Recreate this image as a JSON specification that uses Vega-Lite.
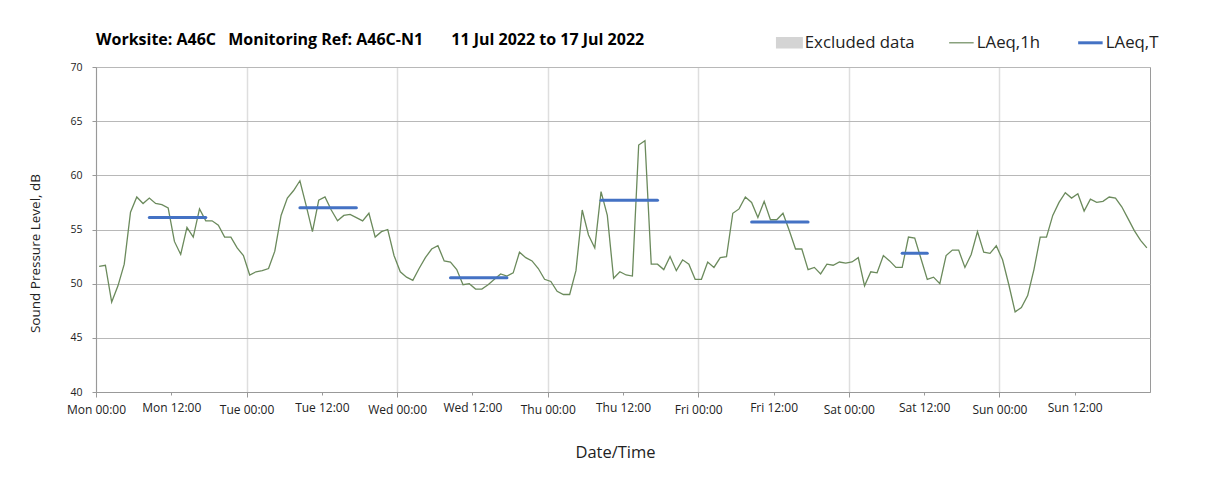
{
  "$schema": "https://vega.github.io/schema/vega-lite/v6.json",
  "width": 1054,
  "height": 325,
  "autosize": "none",
  "padding": {"left": 96, "top": 67, "right": 58, "bottom": 93},
  "background": "white",
  "title": {
    "text": "Worksite: A46C\u2002 Monitoring Ref: A46C-N1\u2003\u2002 11 Jul 2022 to 17 Jul 2022",
    "anchor": "start",
    "frame": "group",
    "font": "Open Sans",
    "fontSize": 16,
    "fontWeight": "bold",
    "color": "#000000",
    "baseline": "alphabetic",
    "offset": -27
  },
  "config": {
    "view": {"stroke": "#9a9a9a", "strokeWidth": 1},
    "font": "Open Sans"
  },
  "datasets": {
    "hourly": [
      {"t": "2022-07-11T00:30", "v": 51.6}, {"t": "2022-07-11T01:30", "v": 51.7}, {"t": "2022-07-11T02:30", "v": 48.3}, {"t": "2022-07-11T03:30", "v": 49.8},
      {"t": "2022-07-11T04:30", "v": 51.8}, {"t": "2022-07-11T05:30", "v": 56.6}, {"t": "2022-07-11T06:30", "v": 58.0}, {"t": "2022-07-11T07:30", "v": 57.4},
      {"t": "2022-07-11T08:30", "v": 57.9}, {"t": "2022-07-11T09:30", "v": 57.4}, {"t": "2022-07-11T10:30", "v": 57.3}, {"t": "2022-07-11T11:30", "v": 57.0},
      {"t": "2022-07-11T12:30", "v": 53.9}, {"t": "2022-07-11T13:30", "v": 52.7}, {"t": "2022-07-11T14:30", "v": 55.2}, {"t": "2022-07-11T15:30", "v": 54.3},
      {"t": "2022-07-11T16:30", "v": 56.9}, {"t": "2022-07-11T17:30", "v": 55.8}, {"t": "2022-07-11T18:30", "v": 55.8}, {"t": "2022-07-11T19:30", "v": 55.4},
      {"t": "2022-07-11T20:30", "v": 54.3}, {"t": "2022-07-11T21:30", "v": 54.3}, {"t": "2022-07-11T22:30", "v": 53.3}, {"t": "2022-07-11T23:30", "v": 52.6},
      {"t": "2022-07-12T00:30", "v": 50.8}, {"t": "2022-07-12T01:30", "v": 51.1}, {"t": "2022-07-12T02:30", "v": 51.2}, {"t": "2022-07-12T03:30", "v": 51.4},
      {"t": "2022-07-12T04:30", "v": 53.0}, {"t": "2022-07-12T05:30", "v": 56.3}, {"t": "2022-07-12T06:30", "v": 57.9}, {"t": "2022-07-12T07:30", "v": 58.6},
      {"t": "2022-07-12T08:30", "v": 59.5}, {"t": "2022-07-12T09:30", "v": 57.2}, {"t": "2022-07-12T10:30", "v": 54.8}, {"t": "2022-07-12T11:30", "v": 57.7},
      {"t": "2022-07-12T12:30", "v": 58.0}, {"t": "2022-07-12T13:30", "v": 56.8}, {"t": "2022-07-12T14:30", "v": 55.8}, {"t": "2022-07-12T15:30", "v": 56.3},
      {"t": "2022-07-12T16:30", "v": 56.4}, {"t": "2022-07-12T17:30", "v": 56.1}, {"t": "2022-07-12T18:30", "v": 55.8}, {"t": "2022-07-12T19:30", "v": 56.5},
      {"t": "2022-07-12T20:30", "v": 54.3}, {"t": "2022-07-12T21:30", "v": 54.8}, {"t": "2022-07-12T22:30", "v": 55.0}, {"t": "2022-07-12T23:30", "v": 52.6},
      {"t": "2022-07-13T00:30", "v": 51.1}, {"t": "2022-07-13T01:30", "v": 50.6}, {"t": "2022-07-13T02:30", "v": 50.3}, {"t": "2022-07-13T03:30", "v": 51.4},
      {"t": "2022-07-13T04:30", "v": 52.4}, {"t": "2022-07-13T05:30", "v": 53.2}, {"t": "2022-07-13T06:30", "v": 53.5}, {"t": "2022-07-13T07:30", "v": 52.1},
      {"t": "2022-07-13T08:30", "v": 52.0}, {"t": "2022-07-13T09:30", "v": 51.3}, {"t": "2022-07-13T10:30", "v": 49.9}, {"t": "2022-07-13T11:30", "v": 50.0},
      {"t": "2022-07-13T12:30", "v": 49.5}, {"t": "2022-07-13T13:30", "v": 49.5}, {"t": "2022-07-13T14:30", "v": 49.9}, {"t": "2022-07-13T15:30", "v": 50.4},
      {"t": "2022-07-13T16:30", "v": 50.9}, {"t": "2022-07-13T17:30", "v": 50.7}, {"t": "2022-07-13T18:30", "v": 51.0}, {"t": "2022-07-13T19:30", "v": 52.9},
      {"t": "2022-07-13T20:30", "v": 52.4}, {"t": "2022-07-13T21:30", "v": 52.1}, {"t": "2022-07-13T22:30", "v": 51.4}, {"t": "2022-07-13T23:30", "v": 50.4},
      {"t": "2022-07-14T00:30", "v": 50.2}, {"t": "2022-07-14T01:30", "v": 49.3}, {"t": "2022-07-14T02:30", "v": 49.0}, {"t": "2022-07-14T03:30", "v": 49.0},
      {"t": "2022-07-14T04:30", "v": 51.2}, {"t": "2022-07-14T05:30", "v": 56.8}, {"t": "2022-07-14T06:30", "v": 54.5}, {"t": "2022-07-14T07:30", "v": 53.3},
      {"t": "2022-07-14T08:30", "v": 58.5}, {"t": "2022-07-14T09:30", "v": 56.3}, {"t": "2022-07-14T10:30", "v": 50.5}, {"t": "2022-07-14T11:30", "v": 51.1},
      {"t": "2022-07-14T12:30", "v": 50.8}, {"t": "2022-07-14T13:30", "v": 50.7}, {"t": "2022-07-14T14:30", "v": 62.8}, {"t": "2022-07-14T15:30", "v": 63.2},
      {"t": "2022-07-14T16:30", "v": 51.8}, {"t": "2022-07-14T17:30", "v": 51.8}, {"t": "2022-07-14T18:30", "v": 51.3}, {"t": "2022-07-14T19:30", "v": 52.5},
      {"t": "2022-07-14T20:30", "v": 51.2}, {"t": "2022-07-14T21:30", "v": 52.2}, {"t": "2022-07-14T22:30", "v": 51.8}, {"t": "2022-07-14T23:30", "v": 50.4},
      {"t": "2022-07-15T00:30", "v": 50.4}, {"t": "2022-07-15T01:30", "v": 52.0}, {"t": "2022-07-15T02:30", "v": 51.5}, {"t": "2022-07-15T03:30", "v": 52.4},
      {"t": "2022-07-15T04:30", "v": 52.5}, {"t": "2022-07-15T05:30", "v": 56.5}, {"t": "2022-07-15T06:30", "v": 56.9}, {"t": "2022-07-15T07:30", "v": 58.0},
      {"t": "2022-07-15T08:30", "v": 57.5}, {"t": "2022-07-15T09:30", "v": 56.1}, {"t": "2022-07-15T10:30", "v": 57.6}, {"t": "2022-07-15T11:30", "v": 55.9},
      {"t": "2022-07-15T12:30", "v": 55.9}, {"t": "2022-07-15T13:30", "v": 56.5}, {"t": "2022-07-15T14:30", "v": 54.9}, {"t": "2022-07-15T15:30", "v": 53.2},
      {"t": "2022-07-15T16:30", "v": 53.2}, {"t": "2022-07-15T17:30", "v": 51.3}, {"t": "2022-07-15T18:30", "v": 51.5}, {"t": "2022-07-15T19:30", "v": 50.9},
      {"t": "2022-07-15T20:30", "v": 51.8}, {"t": "2022-07-15T21:30", "v": 51.7}, {"t": "2022-07-15T22:30", "v": 52.0}, {"t": "2022-07-15T23:30", "v": 51.9},
      {"t": "2022-07-16T00:30", "v": 52.0}, {"t": "2022-07-16T01:30", "v": 52.4}, {"t": "2022-07-16T02:30", "v": 49.8}, {"t": "2022-07-16T03:30", "v": 51.1},
      {"t": "2022-07-16T04:30", "v": 51.0}, {"t": "2022-07-16T05:30", "v": 52.6}, {"t": "2022-07-16T06:30", "v": 52.1}, {"t": "2022-07-16T07:30", "v": 51.5},
      {"t": "2022-07-16T08:30", "v": 51.5}, {"t": "2022-07-16T09:30", "v": 54.3}, {"t": "2022-07-16T10:30", "v": 54.2}, {"t": "2022-07-16T11:30", "v": 52.3},
      {"t": "2022-07-16T12:30", "v": 50.4}, {"t": "2022-07-16T13:30", "v": 50.6}, {"t": "2022-07-16T14:30", "v": 50.0}, {"t": "2022-07-16T15:30", "v": 52.6},
      {"t": "2022-07-16T16:30", "v": 53.1}, {"t": "2022-07-16T17:30", "v": 53.1}, {"t": "2022-07-16T18:30", "v": 51.5}, {"t": "2022-07-16T19:30", "v": 52.7},
      {"t": "2022-07-16T20:30", "v": 54.8}, {"t": "2022-07-16T21:30", "v": 52.9}, {"t": "2022-07-16T22:30", "v": 52.8}, {"t": "2022-07-16T23:30", "v": 53.5},
      {"t": "2022-07-17T00:30", "v": 52.2}, {"t": "2022-07-17T01:30", "v": 49.9}, {"t": "2022-07-17T02:30", "v": 47.4}, {"t": "2022-07-17T03:30", "v": 47.8},
      {"t": "2022-07-17T04:30", "v": 48.9}, {"t": "2022-07-17T05:30", "v": 51.3}, {"t": "2022-07-17T06:30", "v": 54.3}, {"t": "2022-07-17T07:30", "v": 54.3},
      {"t": "2022-07-17T08:30", "v": 56.3}, {"t": "2022-07-17T09:30", "v": 57.5}, {"t": "2022-07-17T10:30", "v": 58.4}, {"t": "2022-07-17T11:30", "v": 57.9},
      {"t": "2022-07-17T12:30", "v": 58.3}, {"t": "2022-07-17T13:30", "v": 56.7}, {"t": "2022-07-17T14:30", "v": 57.8}, {"t": "2022-07-17T15:30", "v": 57.5},
      {"t": "2022-07-17T16:30", "v": 57.6}, {"t": "2022-07-17T17:30", "v": 58.0}, {"t": "2022-07-17T18:30", "v": 57.9}, {"t": "2022-07-17T19:30", "v": 57.1},
      {"t": "2022-07-17T20:30", "v": 56.0}, {"t": "2022-07-17T21:30", "v": 54.9}, {"t": "2022-07-17T22:30", "v": 54.0}, {"t": "2022-07-17T23:30", "v": 53.3}
    ],
    "periods": [
      {"start": "2022-07-11T08:30", "end": "2022-07-11T17:30", "v": 56.1},
      {"start": "2022-07-12T08:30", "end": "2022-07-12T17:30", "v": 57.0},
      {"start": "2022-07-13T08:30", "end": "2022-07-13T17:30", "v": 50.55},
      {"start": "2022-07-14T08:30", "end": "2022-07-14T17:30", "v": 57.7},
      {"start": "2022-07-15T08:30", "end": "2022-07-15T17:30", "v": 55.7},
      {"start": "2022-07-16T08:30", "end": "2022-07-16T12:30", "v": 52.8}
    ]
  },
  "layer": [
    {
      "data": {"name": "hourly"},
      "transform": [{"calculate": "'LAeq,1h'", "as": "s"}],
      "mark": {"type": "line", "strokeWidth": 1.3, "interpolate": "linear"},
      "encoding": {
        "x": {
          "field": "t",
          "type": "temporal",
          "scale": {"domain": [{"year": 2022, "month": 7, "date": 11, "hours": 0}, {"year": 2022, "month": 7, "date": 18, "hours": 0}]},
          "axis": {
            "values": [
              {"year": 2022, "month": 7, "date": 11, "hours": 0}, {"year": 2022, "month": 7, "date": 11, "hours": 12},
              {"year": 2022, "month": 7, "date": 12, "hours": 0}, {"year": 2022, "month": 7, "date": 12, "hours": 12},
              {"year": 2022, "month": 7, "date": 13, "hours": 0}, {"year": 2022, "month": 7, "date": 13, "hours": 12},
              {"year": 2022, "month": 7, "date": 14, "hours": 0}, {"year": 2022, "month": 7, "date": 14, "hours": 12},
              {"year": 2022, "month": 7, "date": 15, "hours": 0}, {"year": 2022, "month": 7, "date": 15, "hours": 12},
              {"year": 2022, "month": 7, "date": 16, "hours": 0}, {"year": 2022, "month": 7, "date": 16, "hours": 12},
              {"year": 2022, "month": 7, "date": 17, "hours": 0}, {"year": 2022, "month": 7, "date": 17, "hours": 12}
            ],
            "format": "%a %H:%M",
            "title": "Date/Time",
            "titleFontSize": 16.5,
            "titleFontWeight": "normal",
            "titleColor": "#222222",
            "titlePadding": 29,
            "titleX": 519,
            "labelFontSize": 12,
            "labelColor": "#222222",
            "labelPadding": 7,
            "labelFlush": false,
            "labelOverlap": false,
            "domainColor": "#999999",
            "tickColor": "#999999",
            "tickSize": {"condition": {"test": "hours(datum.value) == 12", "value": 3}, "value": 5},
            "grid": true,
            "gridColor": "#dedede",
            "gridWidth": 1.5,
            "gridOpacity": {"condition": {"test": "hours(datum.value) == 12", "value": 0}, "value": 1}
          }
        },
        "y": {
          "field": "v",
          "type": "quantitative",
          "scale": {"domain": [40, 70], "nice": false, "zero": false},
          "axis": {
            "values": [40, 45, 50, 55, 60, 65, 70],
            "title": "Sound Pressure Level, dB",
            "titleFontSize": 13.5,
            "titleFontWeight": "normal",
            "titleColor": "#222222",
            "titleX": -54,
            "titleY": 186,
            "labelFontSize": 10.5,
            "labelColor": "#222222",
            "labelPadding": 10,
            "tickSize": 4,
            "tickColor": "#999999",
            "domainColor": "#999999",
            "gridColor": "#b8b8b8"
          }
        },
        "color": {
          "field": "s",
          "type": "nominal",
          "scale": {"domain": ["Excluded data", "LAeq,1h", "LAeq,T"], "range": ["#d4d4d4", "#6b8a5c", "#4472c4"]},
          "legend": {
            "title": null,
            "orient": "none",
            "legendX": 685,
            "legendY": -33,
            "direction": "horizontal",
            "symbolType": "stroke",
            "symbolSize": 600,
            "labelFontSize": 16.8,
            "labelColor": "#222222",
            "labelOffset": 7,
            "columnPadding": 31,
            "encode": {
              "symbols": {
                "update": {
                  "shape": {"signal": "datum.value === 'Excluded data' ? 'M-1.05,-0.42H1.05V0.42H-1.05Z' : 'stroke'"},
                  "fill": {"signal": "datum.value === 'Excluded data' ? '#d4d4d4' : 'transparent'"},
                  "stroke": {"signal": "datum.value === 'Excluded data' ? 'transparent' : (datum.value === 'LAeq,T' ? '#4472c4' : '#4f6a3c')"},
                  "strokeWidth": {"signal": "datum.value === 'LAeq,T' ? 3 : 1.2"}
                }
              }
            }
          }
        }
      }
    },
    {
      "data": {"name": "periods"},
      "transform": [{"calculate": "'LAeq,T'", "as": "s"}],
      "mark": {"type": "rule", "strokeWidth": 3, "strokeCap": "round"},
      "encoding": {
        "x": {"field": "start", "type": "temporal"},
        "x2": {"field": "end"},
        "y": {"field": "v", "type": "quantitative"},
        "color": {"field": "s", "type": "nominal"}
      }
    }
  ]
}
